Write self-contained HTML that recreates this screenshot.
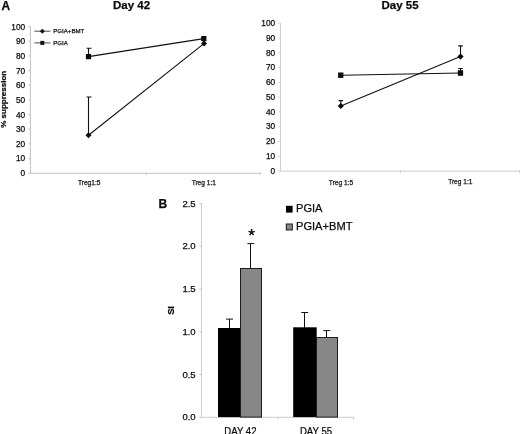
<!DOCTYPE html>
<html><head><meta charset="utf-8">
<style>
html,body{margin:0;padding:0;background:#fff;}
body{width:520px;height:434px;overflow:hidden;}
svg{display:block;will-change:transform;font-family:"Liberation Sans",sans-serif;}
text{stroke:#111;stroke-width:0.25px;}
</style></head><body>
<svg width="520" height="434" viewBox="0 0 520 434">
<rect width="520" height="434" fill="#fff"/>

<!-- Panel A label + titles -->
<text x="1.5" y="10.2" font-size="12" font-weight="bold" fill="#0a0a0a">A</text>
<text x="131.6" y="9.0" font-size="11.5" font-weight="bold" fill="#0a0a0a" text-anchor="middle">Day 42</text>
<text x="400" y="8.8" font-size="11.5" font-weight="bold" fill="#0a0a0a" text-anchor="middle">Day 55</text>

<!-- LEFT CHART axes -->
<g stroke="#c2c2c2" stroke-width="1" fill="none">
<line x1="30.4" y1="26.6" x2="30.4" y2="173.3"/>
<line x1="30" y1="173.3" x2="261" y2="173.3"/>
<path d="M28.4 26.60H30.9M28.4 41.26H30.9M28.4 55.92H30.9M28.4 70.58H30.9M28.4 85.24H30.9M28.4 99.90H30.9M28.4 114.56H30.9M28.4 129.22H30.9M28.4 143.88H30.9M28.4 158.54H30.9M28.4 173.20H30.9"/>
<path d="M146 172.3V174.8M260.5 172.3V174.8"/>
</g>
<g font-size="8.3" fill="#0a0a0a" text-anchor="end">
<text x="25.2" y="29.55">100</text>
<text x="25.2" y="44.21">90</text>
<text x="25.2" y="58.87">80</text>
<text x="25.2" y="73.53">70</text>
<text x="25.2" y="88.19">60</text>
<text x="25.2" y="102.85">50</text>
<text x="25.2" y="117.51">40</text>
<text x="25.2" y="132.17">30</text>
<text x="25.2" y="146.83">20</text>
<text x="25.2" y="161.49">10</text>
<text x="25.2" y="176.15">0</text>
</g>
<text transform="translate(5.7,99.3) rotate(-90)" font-size="8" font-weight="bold" fill="#0a0a0a" text-anchor="middle">% suppression</text>
<g font-size="6.6" fill="#222" text-anchor="middle">
<text x="89.2" y="185">Treg1:5</text>
<text x="203.8" y="185">Treg 1:1</text>
</g>
<!-- legend small -->
<g stroke="#222" stroke-width="0.8" fill="#111">
<line x1="34.4" y1="31.2" x2="50.4" y2="31.2"/>
<path d="M42.3 28.7L44.8 31.2L42.3 33.7L39.8 31.2Z" stroke="none"/>
<line x1="34.4" y1="42.9" x2="50.4" y2="42.9"/>
<rect x="40.3" y="40.9" width="4" height="4" stroke="none"/>
</g>
<g font-size="6.1" fill="#111">
<text x="53.3" y="33.2">PGIA+BMT</text>
<text x="53.3" y="45.2">PGIA</text>
</g>
<!-- series -->
<g stroke="#111" stroke-width="1.1" fill="none">
<line x1="88.5" y1="135.3" x2="203.9" y2="43.6"/>
<line x1="88.5" y1="56.6" x2="203.8" y2="38.6"/>
<path d="M88.5 135V97M86.6 97H91.5"/>
<path d="M88.5 56V48.2M86.6 48.2H91.5"/>
</g>
<g fill="#0a0a0a">
<path d="M88.5 132.3L91.5 135.3L88.5 138.3L85.5 135.3Z"/>
<path d="M204 40.6L207 43.6L204 46.6L201 43.6Z"/>
<rect x="85.9" y="54" width="5.2" height="5.2"/>
<rect x="201.2" y="36" width="5.2" height="5.2"/>
</g>

<!-- RIGHT CHART axes -->
<g stroke="#cdcdcd" stroke-width="1" fill="none">
<line x1="280.5" y1="23.3" x2="280.5" y2="171.1"/>
<line x1="280" y1="171.1" x2="520" y2="171.1"/>
<path d="M278.4 23.30H281M278.4 38.07H281M278.4 52.84H281M278.4 67.61H281M278.4 82.38H281M278.4 97.15H281M278.4 111.92H281M278.4 126.69H281M278.4 141.46H281M278.4 156.23H281M278.4 171.00H281"/>
<path d="M400.5 170.1V172.6M519.5 170.1V172.6"/>
</g>
<g font-size="8.3" fill="#0a0a0a" text-anchor="end">
<text x="275.2" y="26.10">100</text>
<text x="275.2" y="40.87">90</text>
<text x="275.2" y="55.64">80</text>
<text x="275.2" y="70.41">70</text>
<text x="275.2" y="85.18">60</text>
<text x="275.2" y="99.95">50</text>
<text x="275.2" y="114.72">40</text>
<text x="275.2" y="129.49">30</text>
<text x="275.2" y="144.26">20</text>
<text x="275.2" y="159.03">10</text>
<text x="275.2" y="173.80">0</text>
</g>
<g font-size="6.6" fill="#222" text-anchor="middle">
<text x="341" y="184.8">Treg 1:5</text>
<text x="460.3" y="184">Treg 1:1</text>
</g>
<g stroke="#111" stroke-width="1.1" fill="none">
<line x1="340.8" y1="106" x2="460.5" y2="56.6"/>
<line x1="340.8" y1="75.2" x2="460.5" y2="73"/>
<path d="M340.8 105V100.6M338.6 100.6H343"/>
<path d="M460.5 56V45.9M458.2 45.9H462.8"/>
<path d="M460.5 73V68.5M458.2 68.5H462.8"/>
</g>
<g fill="#0a0a0a">
<path d="M340.8 102.9L343.9 106L340.8 109.1L337.7 106Z"/>
<path d="M460.5 53.5L463.6 56.6L460.5 59.7L457.4 56.6Z"/>
<rect x="338.1" y="72.5" width="5.3" height="5.4"/>
<rect x="457.8" y="70.2" width="5.3" height="5.6"/>
</g>

<!-- PANEL B -->
<text x="158.6" y="208" font-size="12" font-weight="bold" fill="#0a0a0a">B</text>
<g stroke="#cacaca" stroke-width="1" fill="none">
<line x1="201.4" y1="203.4" x2="201.4" y2="417.3"/>
<line x1="201" y1="417.3" x2="354" y2="417.3"/>
<path d="M199.2 203.40H201.9M199.2 246.18H201.9M199.2 288.96H201.9M199.2 331.74H201.9M199.2 374.52H201.9M199.2 417.30H201.9"/>
<path d="M278 416.8V419.3M353.5 416.8V419.3"/>
</g>
<g font-size="9.5" fill="#0a0a0a" text-anchor="end">
<text x="195.6" y="206.50">2.5</text>
<text x="195.6" y="249.28">2.0</text>
<text x="195.6" y="292.06">1.5</text>
<text x="195.6" y="334.84">1.0</text>
<text x="195.6" y="377.62">0.5</text>
<text x="195.6" y="420.40">0.0</text>
</g>
<text transform="translate(174.3,310.5) rotate(-90) scale(1.0,1.04)" font-size="9.2" font-weight="bold" fill="#0a0a0a" text-anchor="middle">SI</text>
<!-- bars -->
<g stroke="#111" stroke-width="1" fill="none">
<path d="M229.5 328V319.1M226 319.1H233"/>
<path d="M250.5 268V243.6M247.4 243.6H254.3"/>
<path d="M304.5 328V312.5M301.3 312.5H308.2"/>
<path d="M326.5 337.5V330.6M323.3 330.6H330.3"/>
</g>
<rect x="218" y="328" width="22.5" height="89.1" fill="#000"/>
<rect x="240.5" y="268.5" width="21" height="148.6" fill="#878787" stroke="#1c1c1c" stroke-width="1"/>
<rect x="293.2" y="327.3" width="23.5" height="89.8" fill="#000"/>
<rect x="316.5" y="337.5" width="21" height="79.6" fill="#878787" stroke="#1c1c1c" stroke-width="1"/>
<path d="M251.60 232.40L251.60 229.10M251.60 232.40L254.74 231.38M251.60 232.40L253.54 235.07M251.60 232.40L249.66 235.07M251.60 232.40L248.46 231.38" stroke="#111" stroke-width="1.5" fill="none" stroke-linecap="butt"/>
<g font-size="10.4" fill="#0a0a0a" text-anchor="middle">
<text transform="translate(240.4,434.6) scale(0.923,1)">DAY 42</text>
<text transform="translate(316,434.6) scale(0.923,1)">DAY 55</text>
</g>
<!-- legend B -->
<rect x="286" y="205.8" width="6.6" height="6.8" fill="#000"/>
<rect x="286.3" y="224" width="6" height="6" fill="#878787" stroke="#1c1c1c" stroke-width="1"/>
<g font-size="11.1" fill="#0a0a0a">
<text x="296" y="212.1">PGIA</text>
<text x="296" y="230.3">PGIA+BMT</text>
</g>
</svg>
</body></html>
